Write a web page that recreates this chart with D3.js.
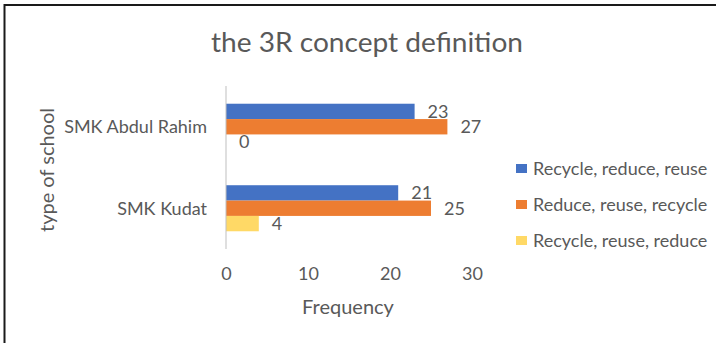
<!DOCTYPE html>
<html>
<head>
<meta charset="utf-8">
<script src="https://cdn.jsdelivr.net/npm/d3@7/dist/d3.min.js"></script>
<style>
  html, body { margin: 0; padding: 0; background: #fff; }
  svg { display: block; }
  text { font-family: Lato, "Open Sans", sans-serif; fill: #595959; }
</style>
</head>
<body>
<svg id="chart" width="726" height="343"></svg>
<script>
// Schools (top to bottom) and answer options
const schools = ["SMK Abdul Rahim", "SMK Kudat"];
const seriesNames = ["Recycle, reduce, reuse", "Reduce, reuse, recycle", "Recycle, reuse, reduce"];
const seriesColors = ["#4472C4", "#ED7D31", "#FFD966"];
// Frequencies per school, one array per answer option
const recycleReduceReuse = [23, 21];
const reduceReuseRecycle = [27, 25];
const recycleReuseReduce = [0, 4];
const seriesValues = [recycleReduceReuse, reduceReuseRecycle, recycleReuseReduce];
const xTicks = [0, 10, 20, 30];

const svg = d3.select("#chart");

// Frame (left and top edges)
svg.append("line").attr("x1", 4.5).attr("x2", 4.5).attr("y1", 4).attr("y2", 343)
  .attr("stroke", "#1a1a1a").attr("stroke-width", 2);
svg.append("line").attr("x1", 4).attr("x2", 716).attr("y1", 5).attr("y2", 5)
  .attr("stroke", "#1a1a1a").attr("stroke-width", 2);

const x = d3.scaleLinear().domain([0, 30]).range([226, 472]);
const y = d3.scaleBand().domain(schools).range([86, 249])
  .paddingInner(0.435).paddingOuter(0.2175);
const ySub = d3.scaleBand().domain(d3.range(seriesNames.length)).range([0, y.bandwidth()]);

// Title
svg.append("text").attr("x", 367).attr("y", 52).attr("text-anchor", "middle")
  .style("font-size", "26px")
  .attr("textLength", 312).attr("lengthAdjust", "spacingAndGlyphs")
  .text("the 3R concept definition");

// Bars and value labels
const rows = [];
schools.forEach((s, i) => seriesValues.forEach((vals, k) => rows.push({ school: s, k, v: vals[i] })));

const g = svg.append("g");
g.selectAll("rect.bar").data(rows).join("rect")
  .attr("class", "bar")
  .attr("x", x(0))
  .attr("y", d => y(d.school) + ySub(d.k))
  .attr("width", d => x(d.v) - x(0))
  .attr("height", ySub.bandwidth())
  .attr("fill", d => seriesColors[d.k]);

g.selectAll("text.val").data(rows).join("text")
  .attr("class", "val")
  .attr("x", d => x(d.v) + 13)
  .attr("y", d => y(d.school) + ySub(d.k) + ySub.bandwidth() / 2)
  .attr("dy", "0.35em")
  .style("font-size", "18px")
  .text(d => d.v);

// Vertical category axis line
svg.append("line").attr("x1", x(0)).attr("x2", x(0)).attr("y1", 86).attr("y2", 249)
  .attr("stroke", "#bfbfbf").attr("stroke-width", 1);

// Category labels
svg.selectAll("text.cat").data(schools).join("text")
  .attr("class", "cat")
  .attr("x", 207).attr("y", d => y(d) + y.bandwidth() / 2).attr("dy", "0.35em")
  .attr("text-anchor", "end").style("font-size", "18px")
  .text(d => d);

// Value axis tick labels
const xAxis = svg.append("g").attr("transform", "translate(0,268)")
  .call(d3.axisBottom(x).tickValues(xTicks).tickSize(0).tickPadding(0));
xAxis.select(".domain").remove();
xAxis.selectAll("text").attr("dy", "0.35em").attr("y", 6)
  .style("font-size", "18px").style("font-family", "Lato, 'Open Sans', sans-serif").attr("fill", "#595959");

// Axis titles
svg.append("text").attr("x", 348).attr("y", 307).attr("dy", "0.35em")
  .attr("text-anchor", "middle").style("font-size", "20px").text("Frequency");
svg.append("text").attr("transform", "translate(47,170) rotate(-90)")
  .attr("dy", "0.35em").attr("text-anchor", "middle").style("font-size", "20px")
  .text("type of school");

// Legend
const legend = svg.append("g").selectAll("g").data(seriesNames).join("g")
  .attr("transform", (d, i) => `translate(516,${168.5 + i * 36})`);
legend.append("rect").attr("x", 0).attr("y", -4.5).attr("width", 11).attr("height", 9)
  .attr("fill", (d, i) => seriesColors[i]);
legend.append("text").attr("x", 17).attr("dy", "0.35em").style("font-size", "18px").text(d => d);
</script>
</body>
</html>
